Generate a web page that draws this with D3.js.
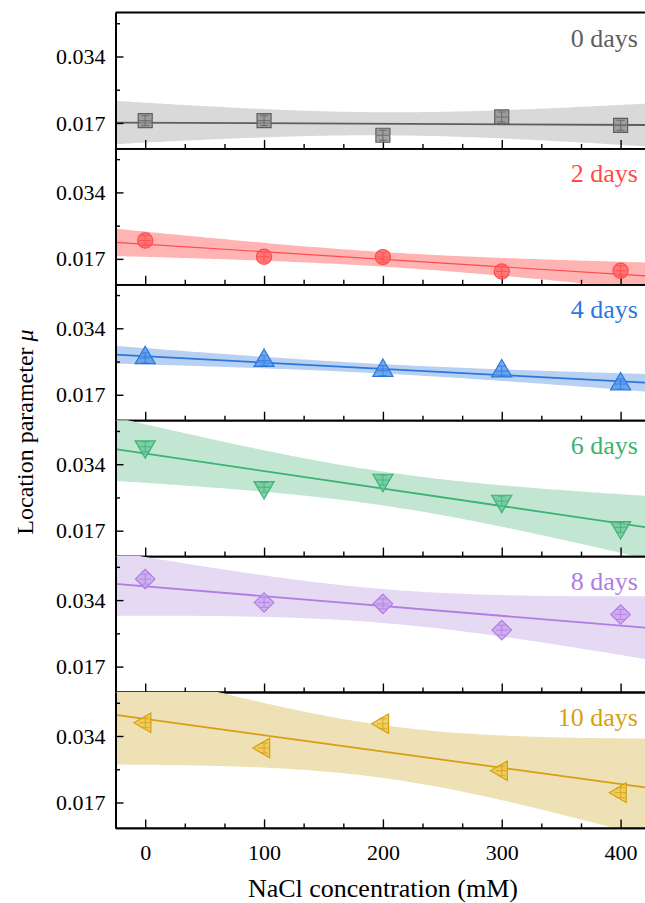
<!DOCTYPE html>
<html>
<head>
<meta charset="utf-8">
<script src="https://cdn.jsdelivr.net/npm/d3@7"></script>
<style>
  body { margin: 0; background: #fff; }
  svg { display: block; }
  svg text { font-family: "Liberation Serif", "DejaVu Serif", serif !important; }
</style>
</head>
<body>
<svg id="chart" width="645" height="903"></svg>
<script>
// NaCl concentration (mM) on x, location parameter mu on y, one panel per day
const conc = [0, 100, 200, 300, 400];
const dayLabels = ["0 days", "2 days", "4 days", "6 days", "8 days", "10 days"];

const mu0  = [0.01759, 0.01759, 0.01386, 0.01854, 0.01641];
const mu2  = [0.02171, 0.01754, 0.01746, 0.01378, 0.01396];
const mu4  = [0.02643, 0.02574, 0.02319, 0.02306, 0.01974];
const mu6  = [0.03847, 0.02807, 0.02994, 0.02457, 0.01785];
const mu8  = [0.03937, 0.03339, 0.03305, 0.02633, 0.03032];
const mu10 = [0.03740, 0.03093, 0.03714, 0.02513, 0.01951];

const yTickLabels = [0.017, 0.034];
const yMinorTicks = [0.0255, 0.0425];
const xMinorTicks = [33.3, 66.7, 133.3, 166.7, 233.3, 266.7, 333.3, 366.7];

const lineColors = ["#5e5e5e", "#ff4a4a", "#2a78de", "#3bb373", "#b27ce2", "#d6a012"];
const bandColors = ["#d9d9d9", "#ffb3b3", "#b8d1f3", "#c3e6d3", "#e6d9f4", "#eee1b5"];
const fillColors = ["#8e8e8e", "#ff6666", "#5897e8", "#6cc598", "#c7a2ec", "#f0c64a"];

const series = [mu0, mu2, mu4, mu6, mu8, mu10];

// 95% two-sided t for n - 2 = 3 degrees of freedom
const T_CRIT = 3.182446;

const FONT = "'Liberation Serif', 'DejaVu Serif', serif";

var svg = d3.select("#chart");

var left = 115.5;
var right = 650.3;
var top0 = 12.5;
var panelH = 135.9;

var x = d3.scaleLinear().domain([-25, 425]).range([left, right]);
var y = d3.scaleLinear().domain([0.0105, 0.04525]).range([panelH, 0]);

function linearFit(xs, ys) {
    var n = xs.length;
    var mx = d3.mean(xs), my = d3.mean(ys);
    var sxx = d3.sum(xs, v => (v - mx) * (v - mx));
    var sxy = d3.sum(xs, (v, i) => (v - mx) * (ys[i] - my));
    var slope = sxy / sxx;
    var icpt = my - slope * mx;
    var sse = d3.sum(xs, (v, i) => Math.pow(ys[i] - (icpt + slope * v), 2));
    var s = Math.sqrt(sse / (n - 2));
    return {
        at: v => icpt + slope * v,
        half: v => T_CRIT * s * Math.sqrt(1 / n + (v - mx) * (v - mx) / sxx)
    };
}

function markerPath(i) {
    switch (i) {
        case 0: return d3.symbol(d3.symbolSquare, 196)();
        case 1: return d3.symbol(d3.symbolCircle, 180)();
        case 2: return d3.symbol(d3.symbolTriangle, 175)();
        case 3: return d3.symbol(d3.symbolTriangle, 175)();
        case 4: return d3.symbol(d3.symbolSquare, 190)();
        case 5: return d3.symbol(d3.symbolTriangle, 165)();
    }
}
var markerRotate = [0, 0, 0, 180, 45, -90];

var sample = d3.range(-25, 425.1, 2.5);

series.forEach((vals, i) => {
    var top = top0 + i * panelH;
    var g = svg.append("g").attr("transform", "translate(0," + top + ")");

    g.append("clipPath").attr("id", "clip" + i)
        .append("rect")
        .attr("x", left).attr("y", 0)
        .attr("width", right - left).attr("height", panelH);

    var fit = linearFit(conc, vals);

    var band = d3.area()
        .x(d => x(d))
        .y0(d => y(fit.at(d) - fit.half(d)))
        .y1(d => y(fit.at(d) + fit.half(d)));

    var plot = g.append("g").attr("clip-path", "url(#clip" + i + ")");
    plot.append("path")
        .datum(sample)
        .attr("d", band)
        .attr("fill", bandColors[i]);

    plot.append("line")
        .attr("x1", x(-25)).attr("x2", x(425))
        .attr("y1", y(fit.at(-25))).attr("y2", y(fit.at(425)))
        .attr("stroke", lineColors[i])
        .attr("stroke-width", i == 1 ? 1.2 : 1.8);

    // axes
    var axL = g.append("g").attr("transform", "translate(" + left + ",0)")
        .call(d3.axisLeft(y).tickValues(yTickLabels).tickFormat(d3.format(".3f"))
            .tickSizeInner(-8).tickSizeOuter(0).tickPadding(10));
    g.append("g").attr("transform", "translate(" + left + ",0)")
        .call(d3.axisLeft(y).tickValues(yMinorTicks).tickFormat("")
            .tickSizeInner(-4.5).tickSizeOuter(0));

    var axB = g.append("g").attr("transform", "translate(0," + panelH + ")")
        .call(d3.axisBottom(x).tickValues(conc)
            .tickFormat(i == series.length - 1 ? d3.format("d") : "")
            .tickSizeInner(-8.5).tickSizeOuter(0).tickPadding(16));
    g.append("g").attr("transform", "translate(0," + panelH + ")")
        .call(d3.axisBottom(x).tickValues(xMinorTicks).tickFormat("")
            .tickSizeInner(-4.5).tickSizeOuter(0));

    if (i == 0) {
        g.append("line")
            .attr("x1", left).attr("x2", right)
            .attr("y1", 0).attr("y2", 0)
            .attr("stroke", "#000").attr("stroke-width", 1.8);
    }

    // markers with small inner error bars
    var m = g.selectAll(".pt").data(vals).enter().append("g")
        .attr("transform", (d, j) => "translate(" + x(conc[j]) + "," + y(d) + ")");
    m.append("path")
        .attr("d", markerPath(i))
        .attr("transform", "rotate(" + markerRotate[i] + ")")
        .attr("fill", fillColors[i])
        .attr("fill-opacity", 0.8)
        .attr("stroke", lineColors[i])
        .attr("stroke-width", 1.2);
    m.append("path")
        .attr("d", "M0,-5V5M-4,-5H4M-4,5H4M-6,0H6")
        .attr("fill", "none")
        .attr("stroke", lineColors[i])
        .attr("stroke-width", 0.8);

    g.append("text")
        .attr("x", 638).attr("y", 34)
        .attr("text-anchor", "end")
        .attr("font-family", FONT)
        .attr("font-size", 26)
        .attr("fill", lineColors[i])
        .text(dayLabels[i]);

    [axL, axB].forEach(a => {
        a.attr("font-family", FONT);
        a.selectAll("text")
            .attr("font-family", FONT)
            .attr("font-size", 22).attr("fill", "#000");
    });
});

svg.selectAll(".domain").attr("stroke-width", 1.8);
svg.selectAll(".tick line").attr("stroke-width", 1.4);

svg.append("text")
    .attr("x", (left + right) / 2).attr("y", 897)
    .attr("text-anchor", "middle")
    .attr("font-family", FONT)
    .attr("font-size", 26)
    .text("NaCl concentration (mM)");

var yt = svg.append("text")
    .attr("transform", "translate(33," + 432 + ") rotate(-90)")
    .attr("text-anchor", "middle")
    .attr("font-family", FONT)
    .attr("font-size", 24);
yt.append("tspan").text("Location parameter ");
yt.append("tspan").attr("font-style", "italic").text("μ");
</script>
</body>
</html>
